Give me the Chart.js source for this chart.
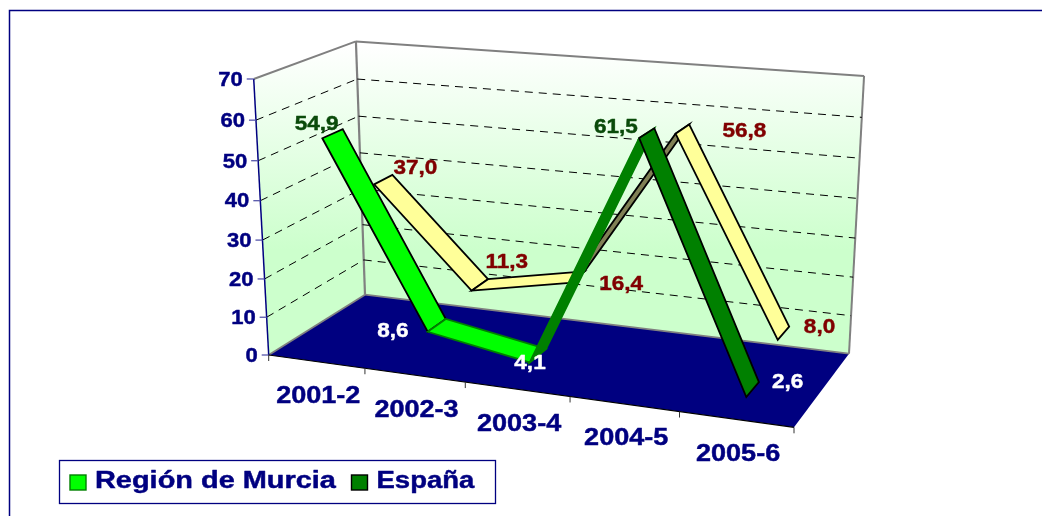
<!DOCTYPE html>
<html><head><meta charset="utf-8">
<style>html,body{margin:0;padding:0;background:#fff;overflow:hidden}canvas{display:block;filter:blur(0.35px)}</style>
<script src="https://cdn.jsdelivr.net/npm/chart.js@4"></script>
</head><body><canvas id="c" width="1042" height="516"></canvas>
<script>
const categories = ["2001-2","2002-3","2003-4","2004-5","2005-6"];
const regionMurcia = [54.9, 8.6, 4.1, 61.5, 2.6];
const espana = [37.0, 11.3, 16.4, 56.8, 8.0];
const seriesNames = ["Región de Murcia","España"];
const yMax = 70, yStep = 10;

// projected box corners of the 3-D plot frame
const box = { fl:[268.7,355], fr:[794,427.3], br:[849,353.7], bl:[365,294.7],
              flt:[253.7,78.7], blt:[356,40.7], brt:[864,77] };
const NAVY = "#000080";

function makeProjection(){
  const [x0,y0]=box.fl,[x1,y1]=box.fr,[x2,y2]=box.br,[x3,y3]=box.bl;
  const sx=x0-x1+x2-x3, sy=y0-y1+y2-y3, dx1=x1-x2, dx2=x3-x2, dy1=y1-y2, dy2=y3-y2;
  const den=dx1*dy2-dx2*dy1;
  const g=(sx*dy2-dx2*sy)/den, h=(dx1*sy-sx*dy1)/den;
  const a=x1-x0+g*x1, b=x3-x0+h*x3, c=x0, d=y1-y0+g*y1, e=y3-y0+h*y3, f=y0;
  const tops=[[0,0,box.flt],[0,1,box.blt],[1,1,box.brt]];
  const rows=[];
  tops.forEach(([u,w,[X,Y]])=>{
    const k=g*u+h*w+1;
    rows.push([1,0,-X,X*k-(a*u+b*w+c)]);
    rows.push([0,1,-Y,Y*k-(d*u+e*w+f)]);
  });
  const N=[[0,0,0,0],[0,0,0,0],[0,0,0,0]];
  rows.forEach(r=>{for(let i=0;i<3;i++){for(let j=0;j<3;j++)N[i][j]+=r[i]*r[j];N[i][3]+=r[i]*r[3];}});
  for(let i=0;i<3;i++){
    for(let m=i+1;m<3;m++){const t=N[m][i]/N[i][i];for(let j=i;j<4;j++)N[m][j]-=t*N[i][j];}
  }
  const s=[0,0,0];
  for(let i=2;i>=0;i--){let t=N[i][3];for(let j=i+1;j<3;j++)t-=N[i][j]*s[j];s[i]=t/N[i][i];}
  const [p,q,r]=s;
  return (u,v,w)=>{const k=g*u+h*w+1+r*v;return [(a*u+b*w+c+p*v)/k,(d*u+e*w+f+q*v)/k];};
}
const P = makeProjection();

function poly(ctx,pts,fill,stroke,lw){
  ctx.beginPath();pts.forEach((p,i)=>i?ctx.lineTo(p[0],p[1]):ctx.moveTo(p[0],p[1]));ctx.closePath();
  if(fill){ctx.fillStyle=fill;ctx.fill();}
  if(stroke){ctx.strokeStyle=stroke;ctx.lineWidth=lw||1;ctx.lineJoin="miter";ctx.stroke();}
}
function seg(ctx,a,b,color,lw,dash){
  ctx.save();ctx.beginPath();ctx.moveTo(a[0],a[1]);ctx.lineTo(b[0],b[1]);
  ctx.strokeStyle=color;ctx.lineWidth=lw;ctx.setLineDash(dash||[]);ctx.stroke();ctx.restore();
}
function text(ctx,s,x,y,size,color,sx,align){
  ctx.save();ctx.translate(x,y);ctx.scale(sx||1,1);
  ctx.font=`bold ${size}px "Liberation Sans", Arial, sans-serif`;
  ctx.fillStyle=color;ctx.strokeStyle=color;ctx.lineWidth=.45;ctx.lineJoin="round";
  ctx.textAlign=align||"center";ctx.textBaseline="middle";
  ctx.fillText(s,0,0);ctx.strokeText(s,0,0);ctx.restore();
}

const ribbons = [
  { depth:[.65,.85], fills:["#FFFF99","#FFFF99","#808055","#FFFF99"], strokes:["#000","#000","#000","#000"] },
  { depth:[.15,.35], fills:["#00FF00","#00FF00","#008000","#008000"], strokes:["#000","#008000","#008000","#000"] }
];
// label placement relative to the projected point: [dx, dy, colour]
const labelStyle = [
  [[-16,-9,"#0A4A0A"],[-44,6,"#FFFFFF"],[-8,8,"#FFFFFF"],[-31,-6,"#0A4A0A"],[35,-7,"#FFFFFF"]],
  [[32,-11,"#800000"],[27,-23,"#800000"],[44,7,"#800000"],[62,2,"#800000"],[36,-6,"#800000"]]
];

const scene3d = {
  id:"scene3d",
  afterDatasetsDraw(chart){
    const ctx=chart.ctx, xs=chart.scales.x, ys=chart.scales.y, A=chart.chartArea;
    const U=px=>(px-A.left)/(A.right-A.left), V=px=>(A.bottom-px)/(A.bottom-A.top);
    ctx.save();
    // frame
    ctx.strokeStyle=NAVY;ctx.lineWidth=1.5;
    ctx.beginPath();ctx.moveTo(9.5,516);ctx.lineTo(9.5,10.5);ctx.lineTo(1042,10.5);ctx.stroke();
    // walls
    const grad=ctx.createLinearGradient(0,45,0,250);
    grad.addColorStop(0,"#FFFFFF");grad.addColorStop(1,"#CCFFCC");
    poly(ctx,[P(0,0,0),P(0,1,0),P(0,1,1),P(0,0,1)],grad);
    poly(ctx,[P(0,0,1),P(0,1,1),P(1,1,1),P(1,0,1)],grad);
    // floor
    poly(ctx,[P(0,0,0),P(1,0,0),P(1,0,1),P(0,0,1)],NAVY);
    // wall edges
    seg(ctx,P(0,1,0),P(0,1,1),"#808080",2);
    seg(ctx,P(0,1,1),P(1,1,1),"#808080",2);
    seg(ctx,P(1,1,1),P(1,0,1),"#808080",2);
    seg(ctx,P(0,1,1),P(0,0,1),"#808080",2.2);
    seg(ctx,P(0,0,0),P(0,0,1),"#808080",1.8);
    seg(ctx,P(0,0,1),P(1,0,1),"#808080",1.8);
    // gridlines
    ys.ticks.forEach(t=>{
      if(t.value<=0||t.value>=yMax) return;
      const v=V(ys.getPixelForValue(t.value));
      seg(ctx,P(0,v,0),P(0,v,1),"#000",1,[8,6]);
      seg(ctx,P(0,v,1),P(1,v,1),"#000",1,[8,6]);
    });
    // value axis
    seg(ctx,P(0,0,0),P(0,1,0),NAVY,1.5);
    ys.ticks.forEach(t=>{
      const v=V(ys.getPixelForValue(t.value));
      const p=P(0,v,0);
      seg(ctx,[p[0]-7,p[1]],p,"#5555AA",1.3);
      text(ctx,String(t.value),p[0]-11,p[1]+1,21,NAVY,1.05,"right");
    });
    // category axis
    seg(ctx,P(0,0,0),P(1,0,0),"#000",1.2);
    const n=categories.length;
    for(let i=0;i<=n;i++){
      const p=P(i/n,0,0);
      seg(ctx,p,[p[0],p[1]+6],"#333",1);
    }
    categories.forEach((c,i)=>{
      const p=P(U(xs.getPixelForValue(i)),0,0);
      text(ctx,c,p[0]+2,p[1]+35,23.5,NAVY,1.15);
    });
    // ribbons
    ribbons.forEach((r,k)=>{
      const ds=k===0?1:0, meta=chart.getDatasetMeta(ds);
      const pts=meta.data.map(el=>({u:U(el.x),v:V(el.y)}));
      for(let i=0;i<pts.length-1;i++){
        const a=pts[i],b=pts[i+1];
        poly(ctx,[P(a.u,a.v,r.depth[0]),P(a.u,a.v,r.depth[1]),P(b.u,b.v,r.depth[1]),P(b.u,b.v,r.depth[0])],r.fills[i],r.strokes[i],1.8);
      }
    });
    // data labels
    ribbons.forEach((r,k)=>{
      const ds=k===0?1:0, vals=chart.data.datasets[ds].data, meta=chart.getDatasetMeta(ds);
      const mid=(r.depth[0]+r.depth[1])/2;
      meta.data.forEach((el,i)=>{
        const p=P(U(el.x),V(el.y),mid), st=labelStyle[ds][i];
        text(ctx,vals[i].toFixed(1).replace(".",","),p[0]+st[0],p[1]+st[1],20.5,st[2],1.1);
      });
    });
    // legend
    ctx.strokeStyle=NAVY;ctx.lineWidth=1.3;ctx.strokeRect(59.5,460.5,436,43);
    const swatches=[["#00FF00","#008000",70,95,1.23],["#008000","#000000",351.5,376.5,1.17]];
    swatches.forEach(([f,s,x,tx,sc],i)=>{
      ctx.fillStyle=f;ctx.fillRect(x,475,16,15);
      ctx.strokeStyle=s;ctx.lineWidth=1.4;ctx.strokeRect(x,475,16,15);
      text(ctx,chart.data.datasets[i].label,tx,482,23.5,NAVY,sc,"left");
    });
    ctx.restore();
  }
};

new Chart(document.getElementById("c"),{
  type:"line",
  data:{labels:categories,datasets:[
    {label:seriesNames[0],data:regionMurcia,borderColor:"#00FF00",backgroundColor:"#00FF00",showLine:false,pointRadius:0},
    {label:seriesNames[1],data:espana,borderColor:"#008000",backgroundColor:"#008000",showLine:false,pointRadius:0}
  ]},
  options:{
    responsive:false,animation:false,
    layout:{padding:0},
    plugins:{legend:{display:false},tooltip:{enabled:false}},
    scales:{
      x:{display:false,offset:true},
      y:{display:false,min:0,max:yMax,ticks:{stepSize:yStep}}
    }
  },
  plugins:[scene3d]
});
</script></body></html>
